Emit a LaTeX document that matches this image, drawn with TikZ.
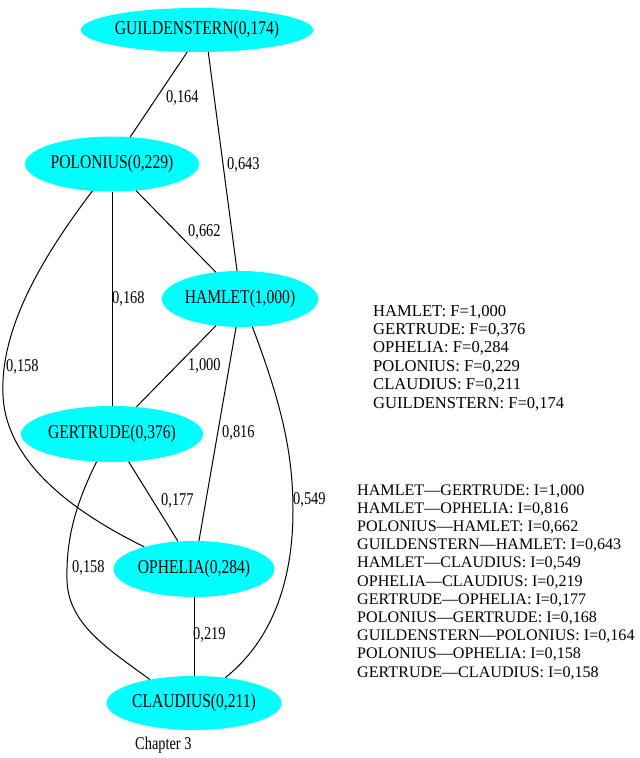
\documentclass[tikz,border=0pt]{standalone}
\usepackage{fontspec}
\setmainfont{Liberation Serif}
\newfontfamily\gfont[FakeStretch=0.8]{Liberation Serif}
\usetikzlibrary{shapes.geometric}
\definecolor{nodecyan}{HTML}{00FFFF}
\tikzset{
  person/.style={ellipse, fill=nodecyan, draw=none, inner sep=0pt,
    font=\gfont\fontsize{19.5}{22}\selectfont},
  elabel/.style={anchor=west, inner sep=0pt, font=\gfont\fontsize{18}{20}\selectfont},
  listline/.style={anchor=base west, inner sep=0pt, font=\fontsize{16.6}{18}\selectfont},
  ilistline/.style={anchor=base west, inner sep=0pt, font=\fontsize{16.1}{18}\selectfont},
  link/.style={draw=black, line width=1pt}
}
\begin{document}
\begin{tikzpicture}[x=1pt,y=-1pt]
\useasboundingbox (0,0) rectangle (640,758);
% nodes
\node[person, minimum width=224pt, minimum height=44pt] (guild) at (197,30) {GUILDENSTERN(0,174)};
\node[person, minimum width=174pt, minimum height=55pt] (pol) at (112,164) {POLONIUS(0,229)};
\node[person, minimum width=156pt, minimum height=56pt] (ham) at (240,299) {HAMLET(1,000)};
\node[person, minimum width=182pt, minimum height=56pt] (gert) at (112,434) {GERTRUDE(0,376)};
\node[person, minimum width=161pt, minimum height=56pt] (oph) at (194,569) {OPHELIA(0,284)};
\node[person, minimum width=174pt, minimum height=54pt] (claud) at (194,703) {CLAUDIUS(0,211)};
% edges
\draw[link] (guild.-114) -- (pol.56);
\draw[link] (guild.-63) -- (ham.96);
\draw[link] (pol.-48) -- (ham.132);
\draw[link] (pol.-90) -- (gert.90);
\draw[link] (pol.-126) .. controls (40,260) and (0,330) .. (3,395)
                       .. controls (6,470) and (90,520) .. (oph.156);
\draw[link] (ham.-132) -- (gert.48);
\draw[link] (ham.-98) -- (oph.80);
\draw[link] (ham.-66) .. controls (280,400) and (293,450) .. (293,510)
                      .. controls (293,600) and (260,650) .. (claud.39);
\draw[link] (gert.-59) -- (oph.120);
\draw[link] (gert.-119) .. controls (75,505) and (66,540) .. (67,580)
                        .. controls (68,625) and (110,650) .. (claud.152);
\draw[link] (oph.-90) -- (claud.90);
% edge labels
\node[elabel] (l1) at (166,98) {0,164};
\node[elabel] (l2) at (227,165) {0,643};
\node[elabel] (l3) at (188,232) {0,662};
\node[elabel] (l4) at (112,299) {0,168};
\node[elabel] (l5) at (6,367) {0,158};
\node[elabel] (l6) at (188,366) {1,000};
\node[elabel] (l7) at (222,433) {0,816};
\node[elabel] (l8) at (293,500) {0,549};
\node[elabel] (l9) at (161,501) {0,177};
\node[elabel] (l10) at (72,568) {0,158};
\node[elabel] (l11) at (193,635) {0,219};
\node[elabel] (chap) at (135,745) {Chapter 3};
% F list
\foreach \t [count=\k] in {HAMLET: F=1{,}000, GERTRUDE: F=0{,}376, OPHELIA: F=0{,}284,
  POLONIUS: F=0{,}229, CLAUDIUS: F=0{,}211, GUILDENSTERN: F=0{,}174}
  \node[listline] (f\k) at (373,{316+(\k-1)*18.4}) {\t};
% I list
\foreach \t [count=\k] in {HAMLET—GERTRUDE: I=1{,}000, HAMLET—OPHELIA: I=0{,}816,
  POLONIUS—HAMLET: I=0{,}662, GUILDENSTERN—HAMLET: I=0{,}643,
  HAMLET—CLAUDIUS: I=0{,}549, OPHELIA—CLAUDIUS: I=0{,}219,
  GERTRUDE—OPHELIA: I=0{,}177, POLONIUS—GERTRUDE: I=0{,}168,
  GUILDENSTERN—POLONIUS: I=0{,}164, POLONIUS—OPHELIA: I=0{,}158,
  GERTRUDE—CLAUDIUS: I=0{,}158}
  \node[ilistline] (i\k) at (357,{495+(\k-1)*18.2}) {\t};
\end{tikzpicture}
\end{document}
